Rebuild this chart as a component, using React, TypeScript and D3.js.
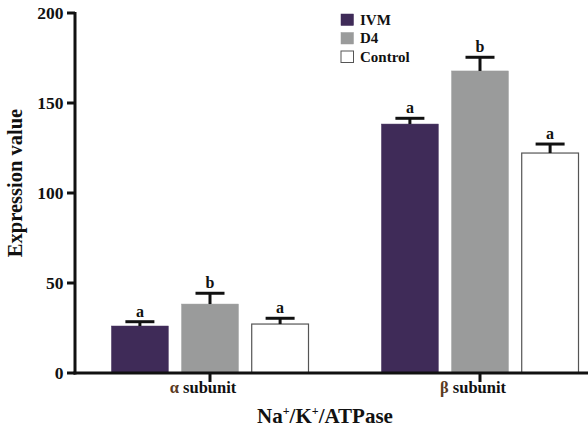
import React from "react";
import * as d3 from "d3";

const categories = ["α subunit", "β subunit"];
const series = ["IVM", "D4", "Control"];
const colors = ["#3f2b58", "#9a9b9b", "#ffffff"];
const values = [
  [26.1, 38.3, 27.2],
  [138.3, 167.8, 122.2],
];
const errors = [
  [2.4, 6.0, 3.2],
  [3.2, 7.6, 5.0],
];
const letters = [
  ["a", "b", "a"],
  ["a", "b", "a"],
];
const yTicks = [0, 50, 100, 150, 200];

const W = 588;
const H = 428;
const FONT = '"Liberation Serif", "Times New Roman", Times, "DejaVu Serif", serif';
const textStyle = { fontFamily: FONT, fontWeight: 700 } as React.CSSProperties;

export default function App() {
  const x0 = d3.scaleBand<string>().domain(categories).range([75, 615]);
  const x1 = d3
    .scaleBand<string>()
    .domain(series)
    .range([36.5, 233.5])
    .paddingInner(0.19);
  const y = d3.scaleLinear().domain([0, 200]).range([373, 13]);
  const bw = x1.bandwidth();
  const capW = 29;

  return (
    <svg
      width={W}
      height={H}
      style={{ position: "absolute", left: 0, top: 0, background: "#fff", fontFamily: FONT }}
    >
      {/* bars */}
      {categories.map((c, ci) =>
        series.map((s, si) => {
          const bx = (x0(c) as number) + (x1(s) as number);
          const v = values[ci][si];
          const e = errors[ci][si];
          const top = y(v);
          const capY = y(v + e);
          const cx = bx + bw / 2;
          return (
            <g key={c + s}>
              <rect
                x={bx}
                y={top}
                width={bw}
                height={y(0) - top}
                fill={colors[si]}
                stroke={si === 2 ? "#555" : colors[si]}
                strokeWidth={si === 2 ? 1.2 : 0.5}
              />
              <line x1={cx} x2={cx} y1={top} y2={capY} stroke="#111" strokeWidth={3} />
              <line
                x1={cx - capW / 2}
                x2={cx + capW / 2}
                y1={capY}
                y2={capY}
                stroke="#111"
                strokeWidth={3}
              />
              <text x={cx} y={capY - 5} textAnchor="middle" fontSize={16} fill="#111" style={textStyle}>
                {letters[ci][si]}
              </text>
            </g>
          );
        })
      )}

      {/* y axis */}
      <line x1={75} x2={75} y1={y(200) - 1} y2={y(0) + 1.5} stroke="#111" strokeWidth={3} />
      {yTicks.map((t) => (
        <g key={t}>
          <line x1={67} x2={75} y1={y(t)} y2={y(t)} stroke="#111" strokeWidth={3} />
          <text x={63.5} y={y(t)} dy="0.34em" textAnchor="end" fontSize={17.5} fill="#111" style={textStyle}>
            {t}
          </text>
        </g>
      ))}

      {/* x axis */}
      <line x1={73.5} x2={W} y1={y(0)} y2={y(0)} stroke="#111" strokeWidth={3} />
      {categories.map((c) => {
        const cx = (x0(c) as number) + x0.bandwidth() / 2;
        const [greek, ...rest] = c.split(" ");
        return (
          <g key={c}>
            <line x1={cx} x2={cx} y1={y(0)} y2={y(0) + 9} stroke="#111" strokeWidth={3} />
            <text x={cx - 7} y={393} textAnchor="middle" fontSize={16.5} fill="#111" style={textStyle}>
              <tspan fill="#5a3a22">{greek}</tspan>
              <tspan> {rest.join(" ")}</tspan>
            </text>
          </g>
        );
      })}

      {/* axis titles */}
      <text
        transform={`translate(22, 183) rotate(-90)`}
        textAnchor="middle"
        fontSize={20.5}
        fill="#111"
        style={textStyle}
      >
        Expression value
      </text>
      <text x={325} y={423} textAnchor="middle" fontSize={21} fill="#111" style={textStyle}>
        Na<tspan fontSize={12} dy={-8}>+</tspan>
        <tspan dy={8}>/K</tspan>
        <tspan fontSize={12} dy={-8}>+</tspan>
        <tspan dy={8}>/ATPase</tspan>
      </text>

      {/* legend */}
      {series.map((s, i) => (
        <g key={s} transform={`translate(341, ${14 + i * 18.5})`}>
          <rect
            x={0}
            y={0}
            width={12.5}
            height={11.5}
            fill={colors[i]}
            stroke={i === 2 ? "#555" : colors[i]}
            strokeWidth={i === 2 ? 1 : 0.5}
          />
          <text x={19} y={10.5} fontSize={15} fill="#111" style={textStyle}>
            {s}
          </text>
        </g>
      ))}
    </svg>
  );
}
